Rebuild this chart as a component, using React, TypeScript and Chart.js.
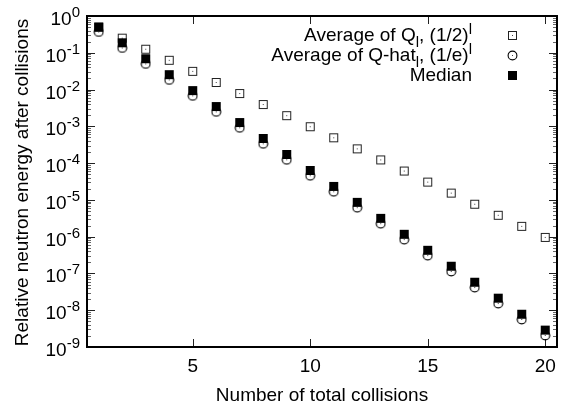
import React, { useEffect, useRef } from 'react';
import { Chart, registerables } from 'chart.js';

Chart.register(...registerables);

// ---- data ----
const collisions = [1, 2, 3, 4, 5, 6, 7, 8, 9, 10, 11, 12, 13, 14, 15, 16, 17, 18, 19, 20];
const avgQ = [
  0.5, 0.25, 0.125, 0.0625, 0.03125, 0.0156, 0.00781, 0.00391, 0.00195, 9.77e-4,
  4.88e-4, 2.44e-4, 1.22e-4, 6.1e-5, 3.05e-5, 1.53e-5, 7.63e-6, 3.81e-6, 1.91e-6, 9.54e-7,
];
const avgQhat = [
  0.368, 0.135, 0.0498, 0.0183, 0.00674, 0.00248, 9.12e-4, 3.35e-4, 1.23e-4, 4.54e-5,
  1.67e-5, 6.14e-6, 2.26e-6, 8.32e-7, 3.06e-7, 1.13e-7, 4.14e-8, 1.52e-8, 5.6e-9, 2.06e-9,
];
const median = [
  0.5, 0.187, 0.069, 0.0254, 0.00937, 0.00345, 0.00127, 4.67e-4, 1.72e-4, 6.31e-5,
  2.33e-5, 8.57e-6, 3.15e-6, 1.16e-6, 4.27e-7, 1.57e-7, 5.78e-8, 2.13e-8, 7.8e-9, 2.88e-9,
];
const xTicks = [5, 10, 15, 20];
const yExponents = [0, -1, -2, -3, -4, -5, -6, -7, -8, -9];
const minorMultipliers = [2, 3, 4, 5, 6, 7, 8, 9];

type Frag = { t: string; k?: 'sub' | 'sup' };
const legendItems: Frag[][] = [
  [{ t: 'Average of Q' }, { t: 'l', k: 'sub' }, { t: ', (1/2)' }, { t: 'l', k: 'sup' }],
  [{ t: 'Average of Q-hat' }, { t: 'l', k: 'sub' }, { t: ', (1/e)' }, { t: 'l', k: 'sup' }],
  [{ t: 'Median' }],
];
const xTitle = 'Number of total collisions';
const yTitle = 'Relative neutron energy after collisions';

const FAMILY = '"Liberation Sans", Arial, Helvetica, sans-serif';
const MAIN = 19;
const SMALL = 15;
const f = (s: number) => `${s}px ${FAMILY}`;

function makeOpenSquare() {
  const c = document.createElement('canvas');
  c.width = 11; c.height = 11;
  const x = c.getContext('2d')!;
  x.strokeStyle = '#222';
  x.lineWidth = 1;
  x.strokeRect(1.5, 1.5, 8, 8);
  x.fillStyle = '#444';
  x.fillRect(5, 5, 1, 1);
  return c;
}
function makeCircle() {
  const c = document.createElement('canvas');
  c.width = 11; c.height = 11;
  const x = c.getContext('2d')!;
  x.strokeStyle = '#000';
  x.lineWidth = 1.1;
  x.beginPath();
  x.arc(5.5, 5.5, 4.4, 0, Math.PI * 2);
  x.stroke();
  x.fillStyle = '#444';
  x.fillRect(5, 5, 1, 1);
  return c;
}
function makeFilledSquare() {
  const c = document.createElement('canvas');
  c.width = 11; c.height = 11;
  const x = c.getContext('2d')!;
  x.fillStyle = '#000';
  x.fillRect(1, 1, 9, 9);
  return c;
}

function richWidth(ctx: CanvasRenderingContext2D, frags: Frag[]) {
  let w = 0;
  for (const fr of frags) {
    ctx.font = f(fr.k ? SMALL : MAIN);
    w += ctx.measureText(fr.t).width;
  }
  return w;
}
function drawRich(
  ctx: CanvasRenderingContext2D, frags: Frag[], x: number, y: number,
  align: 'left' | 'right' | 'center', sup: number, sub: number,
) {
  const w = richWidth(ctx, frags);
  let cx = align === 'right' ? x - w : align === 'center' ? x - w / 2 : x;
  ctx.textAlign = 'left';
  ctx.textBaseline = 'alphabetic';
  for (const fr of frags) {
    ctx.font = f(fr.k ? SMALL : MAIN);
    const dy = fr.k === 'sup' ? -sup : fr.k === 'sub' ? sub : 0;
    ctx.fillText(fr.t, cx, y + dy);
    cx += ctx.measureText(fr.t).width;
  }
}

export default function App() {
  const ref = useRef<HTMLCanvasElement>(null);

  useEffect(() => {
    document.body.style.margin = '0';
    const canvas = ref.current!;
    const sq = makeOpenSquare();
    const ci = makeCircle();
    const fs = makeFilledSquare();
    const markers = [sq, ci, fs];

    const gnuplotPlugin = {
      id: 'gnuplotFrame',
      beforeDatasetsDraw(chart: any) {
        const ctx: CanvasRenderingContext2D = chart.ctx;
        const { left, right, top, bottom } = chart.chartArea;
        const xs = chart.scales.x;
        const ys = chart.scales.y;
        ctx.save();
        ctx.lineWidth = 1;
        // minor ticks (lighter, as in the antialiased reference)
        ctx.strokeStyle = '#666';
        ctx.beginPath();
        for (const e of yExponents) {
          if (e < 0) {
            for (const m of minorMultipliers) {
              const pm = Math.round(ys.getPixelForValue(m * Math.pow(10, e))) + 0.5;
              ctx.moveTo(left, pm); ctx.lineTo(left + 4, pm);
              ctx.moveTo(right, pm); ctx.lineTo(right - 4, pm);
            }
          }
        }
        ctx.stroke();
        // major ticks
        ctx.strokeStyle = '#222';
        ctx.beginPath();
        for (const t of xTicks) {
          const px = Math.round(xs.getPixelForValue(t)) + 0.5;
          ctx.moveTo(px, bottom); ctx.lineTo(px, bottom - 8);
          ctx.moveTo(px, top); ctx.lineTo(px, top + 8);
        }
        for (const e of yExponents) {
          const py = Math.round(ys.getPixelForValue(Math.pow(10, e))) + 0.5;
          ctx.moveTo(left, py); ctx.lineTo(left + 8, py);
          ctx.moveTo(right, py); ctx.lineTo(right - 8, py);
        }
        ctx.stroke();
        ctx.strokeStyle = '#000';
        ctx.lineWidth = 2;
        ctx.strokeRect(left, top, right - left, bottom - top);
        ctx.restore();
      },
      afterDraw(chart: any) {
        const ctx: CanvasRenderingContext2D = chart.ctx;
        const { left, right, top, bottom } = chart.chartArea;
        const xs = chart.scales.x;
        const ys = chart.scales.y;
        ctx.save();
        ctx.fillStyle = '#000';
        // x tick labels
        for (const t of xTicks) {
          drawRich(ctx, [{ t: String(t) }], xs.getPixelForValue(t), bottom + 25, 'center', 0, 0);
        }
        // y tick labels
        for (const e of yExponents) {
          const py = ys.getPixelForValue(Math.pow(10, e));
          drawRich(ctx, [{ t: '10' }, { t: String(e), k: 'sup' }], left - 7, py + 9, 'right', 8, 0);
        }
        // axis titles
        ctx.font = f(MAIN);
        ctx.textAlign = 'center';
        ctx.textBaseline = 'alphabetic';
        ctx.fillText(xTitle, (left + right) / 2, bottom + 54);
        ctx.save();
        ctx.translate(28, (top + bottom) / 2 + 1);
        ctx.rotate(-Math.PI / 2);
        ctx.fillText(yTitle, 0, 0);
        ctx.restore();
        // legend
        const textRight = 472;
        const symX = 512;
        legendItems.forEach((frags, i) => {
          const base = 40.5 + i * 20;
          drawRich(ctx, frags, textRight, base, 'right', 7, 6);
          const m = markers[i];
          ctx.drawImage(m, Math.round(symX - m.width / 2), Math.round(base - 5.5 - m.height / 2));
        });
        ctx.restore();
      },
    };

    const chart = new Chart(canvas, {
      type: 'scatter',
      data: {
        datasets: [
          {
            label: 'Average of Q_l, (1/2)^l',
            data: collisions.map((x, i) => ({ x, y: avgQ[i] })),
            pointStyle: sq as any,
            pointRadius: 5,
            showLine: false,
            order: 3,
          },
          {
            label: 'Average of Q-hat_l, (1/e)^l',
            data: collisions.map((x, i) => ({ x, y: avgQhat[i] })),
            pointStyle: ci as any,
            pointRadius: 5,
            showLine: false,
            order: 2,
          },
          {
            label: 'Median',
            data: collisions.map((x, i) => ({ x, y: median[i] })),
            pointStyle: fs as any,
            pointRadius: 5,
            showLine: false,
            order: 1,
          },
        ],
      },
      options: {
        animation: false,
        responsive: false,
        events: [],
        layout: { padding: { left: 87, top: 16, right: 1, bottom: 63 } },
        plugins: { legend: { display: false }, tooltip: { enabled: false } },
        scales: {
          x: { type: 'linear', min: 0.5, max: 20.5, display: false },
          y: { type: 'logarithmic', min: 1e-9, max: 1, display: false },
        },
      },
      plugins: [gnuplotPlugin],
    });
    return () => chart.destroy();
  }, []);

  return (
    <div style={{ position: 'absolute', left: 0, top: 0, width: 563, height: 410, background: '#fff' }}>
      <canvas ref={ref} width={563} height={410} style={{ display: 'block' }} />
    </div>
  );
}
